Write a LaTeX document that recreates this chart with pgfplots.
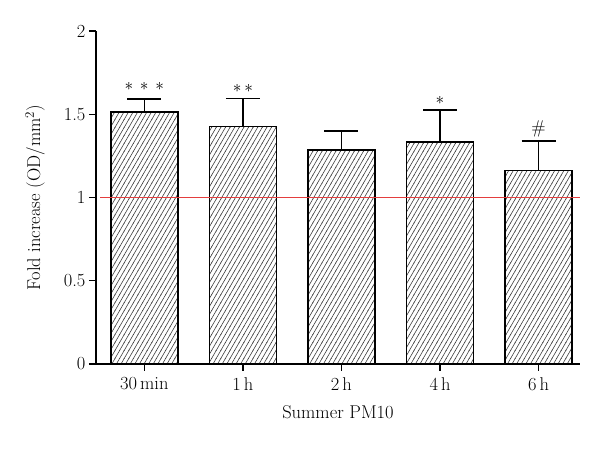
\documentclass[border=0pt]{standalone}
\usepackage{fontspec}
\usepackage{pgfplots}
\pgfplotsset{compat=1.18}
\usetikzlibrary{patterns}
\definecolor{redline}{RGB}{228,62,62}
\pgfdeclarepatterninherentlycolored{myhatch}
  {\pgfqpoint{-0.5pt}{-0.5pt}}{\pgfqpoint{5.1pt}{8.5pt}}
  {\pgfqpoint{4.6pt}{7.967pt}}
  {%
    \pgfsetstrokecolor{black!75}%
    \pgfsetlinewidth{0.6pt}%
    \pgfpathmoveto{\pgfqpoint{-0.23pt}{-0.4pt}}%
    \pgfpathlineto{\pgfqpoint{4.83pt}{8.367pt}}%
    \pgfusepath{stroke}%
  }
\begin{document}
\begin{tikzpicture}
\useasboundingbox (-96pt,-106pt) rectangle (504pt,364pt);
\begin{axis}[
  at={(0pt,0pt)}, anchor=south west,
  scale only axis, width=484pt, height=333pt,
  xmin=-0.49, xmax=4.42, ymin=0, ymax=2,
  axis x line=bottom, axis y line=left,
  axis line style={-, line width=1.4pt, black},
  xtick={0,1,2,3,4},
  xticklabels={30\,min,1\,h,2\,h,4\,h,6\,h},
  ytick={0,0.5,1,1.5,2},
  yticklabels={0,0.5,1,1.5,2},
  tick align=outside, major tick length=7pt,
  tick style={black, line width=1.4pt},
  ticklabel style={font=\fontsize{18.5}{22}\selectfont},
  xticklabel style={yshift=-3pt},
  label style={font=\fontsize{18.5}{22}\selectfont},
  xlabel={Summer PM10},
  ylabel={Fold increase (OD/mm\textsuperscript{2})},
  xlabel style={at={(axis description cs:0.5,-0.145)}, anchor=center},
  ylabel style={at={(axis description cs:-0.126,0.5)}, anchor=center},
  clip=false,
]
\addplot[ybar, bar width=67pt, draw=none, pattern=myhatch, forget plot]
coordinates {
  (0,1.513) (1,1.425) (2,1.285) (3,1.333) (4,1.163)
};
\addplot[ybar, bar width=67pt, draw=black, fill=none, line width=1.4pt,
  error bars/.cd, y dir=plus, y explicit,
  error bar style={line width=1.4pt, black, solid},
  error mark options={rotate=90, black, mark size=17pt, line width=1.4pt}]
coordinates {
  (0,1.513) +- (0,0.078)
  (1,1.425) +- (0,0.170)
  (2,1.285) +- (0,0.114)
  (3,1.333) +- (0,0.192)
  (4,1.163) +- (0,0.176)
};
\addplot[draw=redline, line width=1.3pt, mark=none, forget plot] coordinates {(-0.446,1) (4.42,1)};
\addplot[draw=none, mark=none, nodes near coords, point meta=explicit symbolic,
  nodes near coords style={anchor=center, inner sep=0pt, text=black, font=\fontsize{18.5}{22}\selectfont}]
coordinates {
  (0,1.664) [$\ast\,\ast\,\ast$]
  (1,1.652) [$\ast\,\ast$]
  (3,1.580) [$\ast$]
  (4,1.411) [\#]
};
\end{axis}
\end{tikzpicture}
\end{document}
